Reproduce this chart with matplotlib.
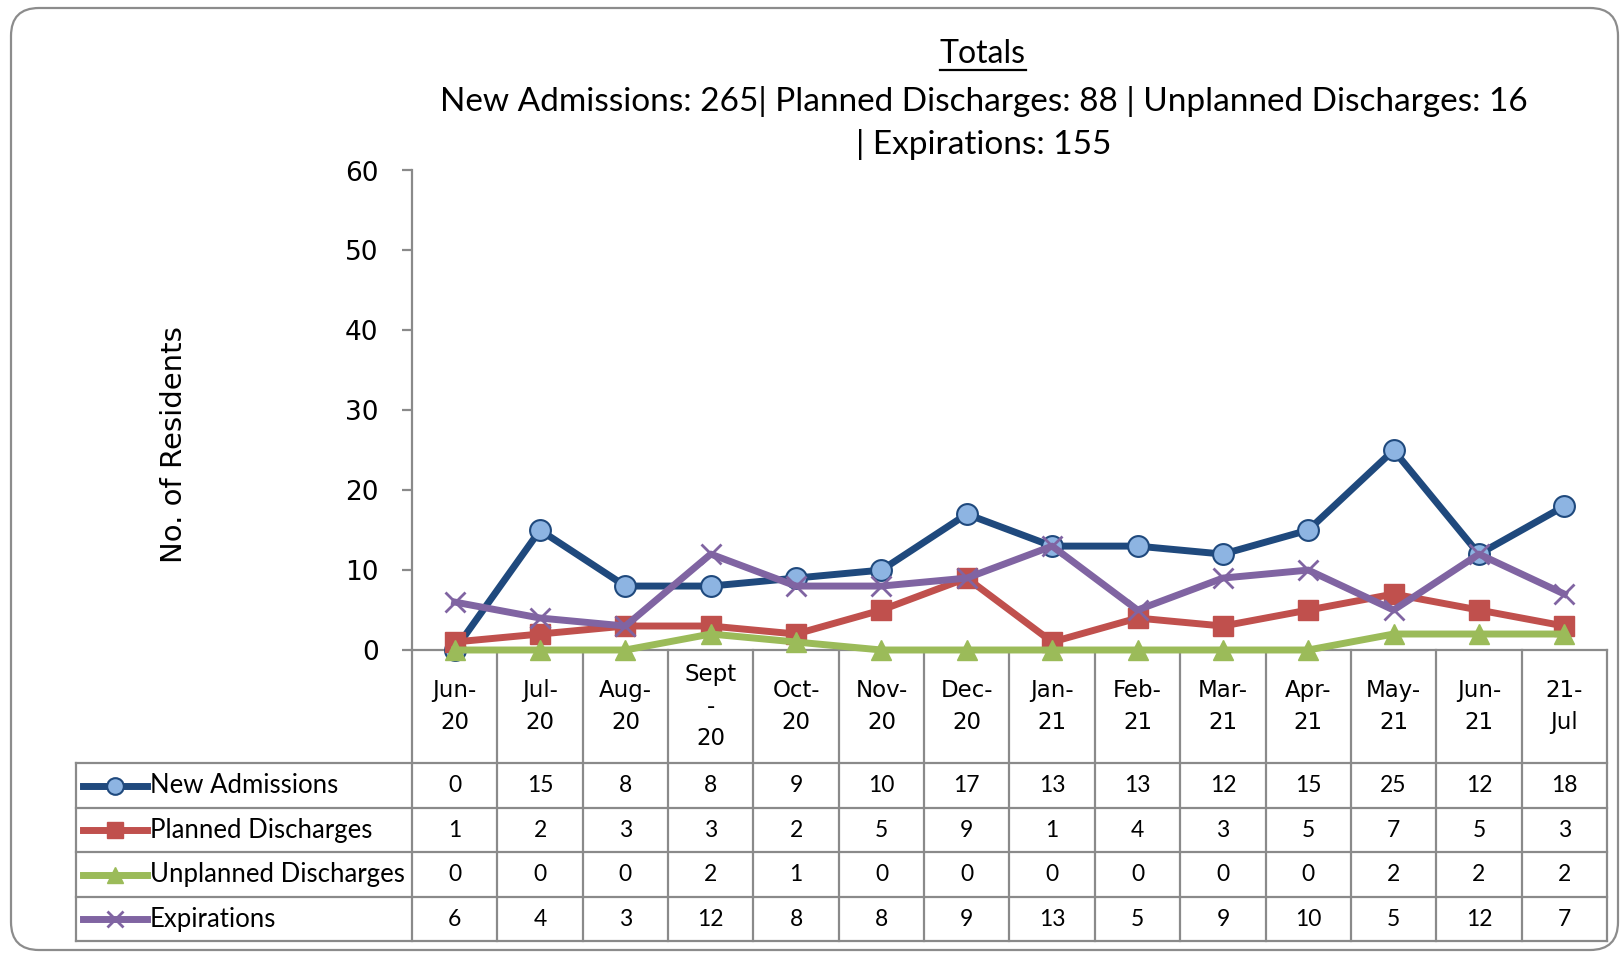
import matplotlib
matplotlib.use('Agg')
import matplotlib.pyplot as plt
import matplotlib.transforms as mtransforms
from matplotlib.patches import FancyBboxPatch
from matplotlib.lines import Line2D

# data
months = ['Jun-\n20', 'Jul-\n20', 'Aug-\n20', 'Sept\n-\n20', 'Oct-\n20', 'Nov-\n20', 'Dec-\n20',
          'Jan-\n21', 'Feb-\n21', 'Mar-\n21', 'Apr-\n21', 'May-\n21', 'Jun-\n21', '21-\nJul']
new_admissions = [0, 15, 8, 8, 9, 10, 17, 13, 13, 12, 15, 25, 12, 18]
planned = [1, 2, 3, 3, 2, 5, 9, 1, 4, 3, 5, 7, 5, 3]
unplanned = [0, 0, 0, 2, 1, 0, 0, 0, 0, 0, 0, 2, 2, 2]
expirations = [6, 4, 3, 12, 8, 8, 9, 13, 5, 9, 10, 5, 12, 7]
series_names = ['New Admissions', 'Planned Discharges', 'Unplanned Discharges', 'Expirations']
yticks = [0, 10, 20, 30, 40, 50, 60]
title = 'Totals'
subtitle = 'New Admissions: 265| Planned Discharges: 88 | Unplanned Discharges: 16\n| Expirations: 155'
ylabel = 'No. of Residents'

styles = [
    dict(color='#1F497D', marker='o', mfc='#8DB4E2', mec='#1F497D', ms=15, mew=1.5),
    dict(color='#C0504D', marker='s', mfc='#C0504D', mec='#C0504D', ms=15, mew=1),
    dict(color='#9BBB59', marker='^', mfc='#9BBB59', mec='#9BBB59', ms=15, mew=1),
    dict(color='#8064A2', marker='x', mfc='#8064A2', mec='#8064A2', ms=14, mew=2),
]

W, H = 1624, 955
GRID = '#8A8A8A'
narrow = ['Lato', 'DejaVu Sans']

fig = plt.figure(figsize=(W / 100, H / 100), dpi=100)
fig.patch.set_facecolor('white')

# overlay in pixel coords for the frame, title, table
ov = fig.add_axes([0, 0, 1, 1], zorder=0)
ov.set_xlim(0, W); ov.set_ylim(H, 0); ov.axis('off')

ov.add_patch(FancyBboxPatch((11, 8), 1607, 942, boxstyle='round,pad=0,rounding_size=28',
                            fc='white', ec='#8C8C8C', lw=1.6))

# main plot
x_left, x_right, y_top, y_zero = 412, 1607, 170.5, 650
ax = fig.add_axes([x_left / W, 1 - y_zero / H, (x_right - x_left) / W, (y_zero - y_top) / H], zorder=2)
ax.patch.set_alpha(0)
n = len(months)
xs = list(range(n))
for vals, st in zip([new_admissions, planned, unplanned, expirations], styles):
    ax.plot(xs, vals, lw=5, clip_on=False, zorder=5, **st)

ax.set_xlim(-0.5, n - 0.5)
ax.set_ylim(0, 60)
ax.set_yticks(yticks)
ax.set_xticks([])
for s in ['top', 'right']:
    ax.spines[s].set_visible(False)
for s in ['left', 'bottom']:
    ax.spines[s].set_color(GRID)
    ax.spines[s].set_linewidth(1.6)
ax.tick_params(axis='y', direction='out', length=7, width=1.6, color=GRID, pad=17, labelsize=19)
ax.set_ylabel(ylabel, fontsize=21, labelpad=0)
ax.yaxis.set_label_coords(-(x_left - 174) / (x_right - x_left), (y_zero - 445) / (y_zero - y_top))
ax.yaxis.label.set_verticalalignment('center')

# title
t = ov.text(983, 54, title, ha='center', va='center', fontsize=23, family=narrow)
ov.text(984, 123, subtitle, ha='center', va='center', fontsize=24, family=narrow, linespacing=1.45)
fig.canvas.draw()
bb = t.get_window_extent().transformed(ov.transData.inverted())
yu = max(bb.y0, bb.y1) + 1
ov.plot([bb.x0, bb.x1], [yu, yu], color='black', lw=1.6)

# data table under the plot
tr = mtransforms.blended_transform_factory(ax.transData, ov.transData)
row_edges = [650, 763, 808, 852, 897, 941]
tab_left = 76
for i in range(n + 1):
    ov.plot([i - 0.5, i - 0.5], [row_edges[0], row_edges[-1]], color=GRID, lw=1.6,
            transform=tr, zorder=1, clip_on=False)
for y in row_edges[1:]:
    ov.plot([tab_left, x_right], [y, y], color=GRID, lw=1.6, zorder=1)
ov.plot([tab_left, tab_left], [row_edges[1], row_edges[-1]], color=GRID, lw=1.6, zorder=1)

cat_mid = (row_edges[0] + row_edges[1]) / 2
for i, m in enumerate(months):
    ov.text(i, cat_mid, m, ha='center', va='center', fontsize=16.5, linespacing=1.5,
            transform=tr)

all_vals = [new_admissions, planned, unplanned, expirations]
for r, (name, vals, st) in enumerate(zip(series_names, all_vals, styles)):
    yc = (row_edges[r + 1] + row_edges[r + 2]) / 2
    ov.add_line(Line2D([83, 147], [yc, yc], lw=5, color=st['color']))
    ov.add_line(Line2D([115], [yc], lw=0, marker=st['marker'], mfc=st['mfc'], mec=st['mec'],
                       ms=st['ms'] * 0.8, mew=st['mew']))
    ov.text(150, yc, name, ha='left', va='center', fontsize=18.5, family=narrow)
    for i, v in enumerate(vals):
        ov.text(i, yc, str(v), ha='center', va='center', fontsize=16.5, family=narrow,
                transform=tr)

fig.savefig('out.png', dpi=100, facecolor='white')
